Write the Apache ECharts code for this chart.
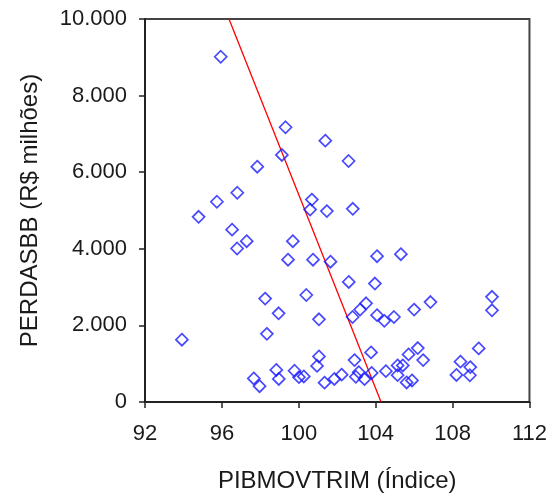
<!DOCTYPE html>
<html>
<head>
<meta charset="utf-8">
<script src="https://cdn.jsdelivr.net/npm/echarts@6/dist/echarts.min.js"></script>
<style>
  html, body { margin: 0; padding: 0; background: #fff; }
  #chart { width: 550px; height: 502px; }
</style>
</head>
<body>
<div id="chart"></div>
<script>
// PIBMOVTRIM (índice) observations
const pibIndex = [
  95.94, 99.31, 101.38, 99.12, 102.59, 97.84, 96.80, 95.74, 100.68, 100.59,
  101.46, 102.81, 94.79, 96.53, 97.29, 96.79, 99.69, 99.44, 100.74, 101.65,
  104.07, 105.31, 102.60, 103.96, 100.39, 98.25, 98.95, 101.05, 98.34, 93.92,
  103.50, 103.19, 102.80, 104.07, 104.45, 104.95, 106.00, 106.85, 110.05, 110.05,
  101.05, 100.95, 103.76, 102.90, 106.19, 105.71, 106.47, 109.36, 108.41, 108.92,
  108.20, 108.90, 97.66, 97.96, 98.83, 98.96, 99.78, 100.01, 100.26, 101.34,
  101.85, 102.23, 102.97, 103.12, 103.42, 103.79, 104.53, 105.14, 105.41, 105.14,
  105.61, 105.89
];

// PERDASBB (R$ milhões) observations, same order
const perdasBB = [
  9014, 7174, 6824, 6450, 6293, 6143, 5463, 5228, 5285, 5024,
  4984, 5044, 4835, 4500, 4199, 4008, 4199, 3715, 3715, 3663,
  3807, 3859, 3134, 3093, 2794, 2700, 2316, 2159, 1779, 1627,
  2577, 2412, 2219, 2268, 2119, 2219, 2412, 2609, 2747, 2394,
  1190, 942, 1295, 1094, 1408, 1243, 1094, 1400, 1054, 911,
  706, 699, 615, 413, 837, 602, 816, 649, 667, 505,
  602, 714, 659, 780, 597, 759, 806, 955, 955, 701,
  510, 563
];

// Fitted regression line end points (x, y)
const fitX = [96.37, 104.28];
const fitY = [10000, 0];

// Axis ranges and ticks
const xTicks = [92, 96, 100, 104, 108, 112];
const yTicks = [0, 2000, 4000, 6000, 8000, 10000];

const points = pibIndex.map((x, i) => [x, perdasBB[i]]);
const fitLine = fitX.map((x, i) => [x, fitY[i]]);

function thousands(v) {
  return String(Math.round(v)).replace(/\B(?=(\d{3})+(?!\d))/g, '.');
}

const FONT = 'Liberation Sans, Arial, sans-serif';
const labelFont = { fontFamily: FONT, fontSize: 22, color: '#1a1a1a' };
const titleFont = { fontFamily: FONT, fontSize: 24, color: '#1a1a1a' };

const chart = echarts.init(document.getElementById('chart'), null, { renderer: 'canvas' });
chart.setOption({
  animation: false,
  backgroundColor: '#ffffff',
  grid: {
    left: 145, right: 20, top: 19, bottom: 100,
    show: true, borderColor: '#444', borderWidth: 2, backgroundColor: 'transparent'
  },
  xAxis: {
    type: 'value',
    min: xTicks[0], max: xTicks[xTicks.length - 1], interval: xTicks[1] - xTicks[0],
    name: 'PIBMOVTRIM (Índice)',
    nameLocation: 'middle', nameGap: 67,
    nameTextStyle: titleFont,
    axisLine: { onZero: false, lineStyle: { color: '#222', width: 2 } },
    axisTick: { show: true, length: 6, lineStyle: { color: '#222', width: 1.5 } },
    axisLabel: Object.assign({ margin: 21 }, labelFont),
    splitLine: { show: false }
  },
  yAxis: {
    type: 'value',
    min: yTicks[0], max: yTicks[yTicks.length - 1], interval: yTicks[1] - yTicks[0],
    name: 'PERDASBB (R$ milhões)',
    nameLocation: 'middle', nameGap: 103,
    nameTextStyle: titleFont,
    axisLine: { onZero: false, lineStyle: { color: '#222', width: 2 } },
    axisTick: { show: true, length: 6, lineStyle: { color: '#222', width: 1.5 } },
    axisLabel: Object.assign({ margin: 18, formatter: thousands }, labelFont),
    splitLine: { show: false }
  },
  series: [
    {
      type: 'scatter',
      data: points,
      symbol: 'diamond',
      symbolSize: 12,
      itemStyle: { color: 'rgba(255,255,255,0)', borderColor: '#1a1aff', borderWidth: 1.7 },
      z: 3
    },
    {
      type: 'line',
      data: fitLine,
      symbol: 'none',
      lineStyle: { color: '#ff0000', width: 1.3 },
      z: 2
    }
  ]
});
</script>
</body>
</html>
